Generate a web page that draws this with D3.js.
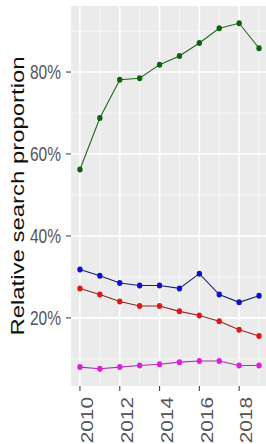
<!DOCTYPE html>
<html>
<head>
<meta charset="utf-8">
<script src="https://cdn.jsdelivr.net/npm/d3@7"></script>
<style>
html,body{margin:0;padding:0;background:#fff;}
svg{display:block;}
text{font-family:"Liberation Sans",Arial,sans-serif;}
</style>
</head>
<body>
<svg id="chart" width="266" height="444"></svg>
<script>
const years = [2010,2011,2012,2013,2014,2015,2016,2017,2018,2019];
const green = [0.562,0.688,0.781,0.785,0.818,0.839,0.871,0.907,0.919,0.858];
const blue = [0.318,0.303,0.285,0.279,0.279,0.272,0.308,0.257,0.238,0.254];
const red = [0.272,0.257,0.240,0.229,0.229,0.216,0.206,0.192,0.171,0.156];
const magenta = [0.080,0.076,0.080,0.084,0.087,0.092,0.095,0.095,0.084,0.084];
const yTicks = [0.2,0.4,0.6,0.8];
const yMinor = [0.1,0.3,0.5,0.7,0.9];
const xTicks = [2010,2012,2014,2016,2018];
const xMinor = [2011,2013,2015,2017,2019];
const seriesList = [
  {name:"green", values:green, point:"#0a640a", line:"#226622"},
  {name:"blue", values:blue, point:"#1010cc", line:"#1c1c7a"},
  {name:"red", values:red, point:"#e01818", line:"#9a2222"},
  {name:"magenta", values:magenta, point:"#e41ae4", line:"#b030b0"}
];

const svg = d3.select("#chart");
const pLeft = 71, pRight = 268, pTop = 6, pBottom = 386;
const allVals = [].concat(green, blue, red, magenta);
const yMin = d3.min(allVals), yMax = d3.max(allVals);
const pad = (yMax - yMin) * 0.05;
const x = d3.scaleLinear().domain([2009.55, 2019.45]).range([pLeft, pRight]);
const y = d3.scaleLinear().domain([yMin - pad, yMax + pad]).range([pBottom, pTop]);

// panel
svg.append("rect").attr("x", pLeft).attr("y", pTop).attr("width", pRight - pLeft).attr("height", pBottom - pTop).attr("fill", "#ebebeb");

// minor grid
svg.selectAll(".ymin").data(yMinor).enter().append("line")
  .attr("x1", pLeft).attr("x2", pRight).attr("y1", d => y(d)).attr("y2", d => y(d))
  .attr("stroke", "#fafafa").attr("stroke-width", 0.8);
svg.selectAll(".xmin").data(xMinor).enter().append("line")
  .attr("y1", pTop).attr("y2", pBottom).attr("x1", d => x(d)).attr("x2", d => x(d))
  .attr("stroke", "#fafafa").attr("stroke-width", 0.8);
// major grid
svg.selectAll(".ymaj").data(yTicks).enter().append("line")
  .attr("x1", pLeft).attr("x2", pRight).attr("y1", d => y(d)).attr("y2", d => y(d))
  .attr("stroke", "#ffffff").attr("stroke-width", 1.6);
svg.selectAll(".xmaj").data(xTicks).enter().append("line")
  .attr("y1", pTop).attr("y2", pBottom).attr("x1", d => x(d)).attr("x2", d => x(d))
  .attr("stroke", "#ffffff").attr("stroke-width", 1.6);

// lines and points
const lineGen = d3.line().x((d, i) => x(years[i])).y(d => y(d));
seriesList.forEach(s => {
  svg.append("path").datum(s.values).attr("d", lineGen)
    .attr("fill", "none").attr("stroke", s.line).attr("stroke-width", 1.1);
  svg.selectAll(".pt-" + s.name).data(s.values).enter().append("ellipse")
    .attr("cx", (d, i) => x(years[i])).attr("cy", d => y(d))
    .attr("rx", 2.7).attr("ry", 3.0).attr("fill", s.point);
});

// y axis ticks and labels
const yAxis = svg.append("g");
yTicks.forEach(t => {
  yAxis.append("line").attr("x1", pLeft - 5).attr("x2", pLeft).attr("y1", y(t)).attr("y2", y(t))
    .attr("stroke", "#444").attr("stroke-width", 1.1);
  yAxis.append("text")
    .attr("transform", `translate(${pLeft - 10},${y(t)}) scale(1,1.3)`)
    .attr("text-anchor", "end").attr("dy", "0.36em")
    .attr("font-size", 15.5).attr("fill", "#555")
    .text(d3.format(".0%")(t));
});

// x axis ticks and labels
const xAxis = svg.append("g");
xTicks.forEach(t => {
  xAxis.append("line").attr("x1", x(t)).attr("x2", x(t)).attr("y1", pBottom).attr("y2", pBottom + 5)
    .attr("stroke", "#444").attr("stroke-width", 1.1);
  xAxis.append("text")
    .attr("transform", `translate(${x(t) + 7.5},${pBottom + 11}) rotate(-90) scale(1.3,1)`)
    .attr("text-anchor", "end").attr("dy", "0.36em")
    .attr("font-size", 16).attr("fill", "#555")
    .text(t);
});

// y axis title
svg.append("text")
  .attr("transform", `translate(24,${(pTop + pBottom) / 2}) rotate(-90) scale(1.33,1)`)
  .attr("text-anchor", "middle")
  .attr("font-size", 18).attr("fill", "#111")
  .text("Relative search proportion");
</script>
</body>
</html>
